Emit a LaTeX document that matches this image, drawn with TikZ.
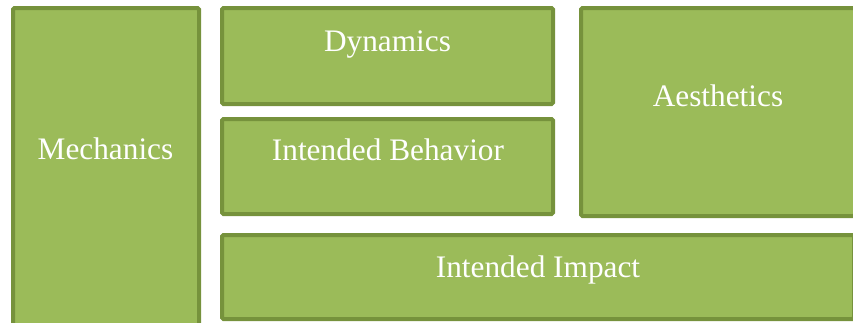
\documentclass[tikz,border=0pt]{standalone}
\usepackage{fontspec}
\setmainfont{Liberation Serif}
\definecolor{panelfill}{HTML}{9BBB59}
\definecolor{panelline}{HTML}{76923C}
\begin{document}
\begin{tikzpicture}[x=1pt,y=-1pt,
  panel/.style={draw=panelline, fill=panelfill, line width=4pt,
    rounded corners=1.5pt, inner sep=0pt, outer sep=0pt, anchor=center},
  caption/.style={text=white, anchor=base, inner sep=0pt,
    font=\fontsize{31.3}{37}\selectfont}]
  \useasboundingbox (0,0) rectangle (853,322);
  \clip (0,0) rectangle (853,322);
  % panels
  \node[panel, minimum width=186pt, minimum height=332pt] (mech) at (106,174) {};
  \node[panel, minimum width=331pt, minimum height=96pt] (dyn) at (387.5,56) {};
  \node[panel, minimum width=331pt, minimum height=95pt] (beh) at (387.5,166.5) {};
  \node[panel, minimum width=274pt, minimum height=208pt] (aes) at (718,112) {};
  \node[panel, minimum width=632pt, minimum height=84pt] (imp) at (538,277) {};
  % captions
  \node[caption] (mechT) at (105.5,159.3) {Mechanics};
  \node[caption] (dynT) at (387.5,51.7) {Dynamics};
  \node[caption] (behT) at (388,160.7) {Intended Behavior};
  \node[caption] (aesT) at (718,106.7) {Aesthetics};
  \node[caption] (impT) at (538,277.3) {Intended Impact};
\end{tikzpicture}
\end{document}
